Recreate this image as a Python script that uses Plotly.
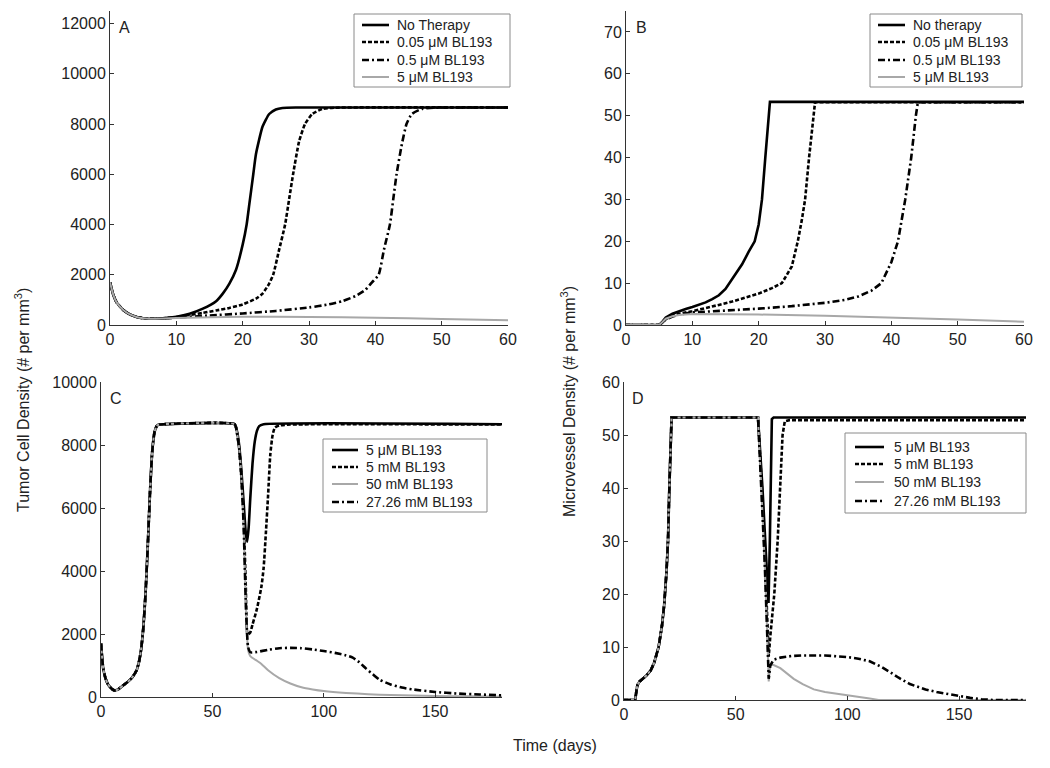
import plotly.graph_objects as go

# ---------------- Panel A: tumor cell density, 0-60 days ----------------
A_none_t = [0, 0.5, 1, 2, 3, 4, 5, 6, 7, 8, 10, 12, 14, 16, 17, 18, 19, 20, 20.6, 21, 21.6, 22, 23, 24, 25, 26, 28, 60]
A_none_y = [1700, 1200, 900, 600, 420, 320, 270, 250, 250, 265, 330, 450, 650, 950, 1250, 1650, 2200, 3200, 4000, 4800, 6000, 6800, 7900, 8400, 8580, 8640, 8660, 8660]
A_005_t = [0, 0.5, 1, 2, 3, 4, 5, 6, 7, 8, 10, 12, 14, 16, 18, 20, 22, 23, 24, 24.6, 25.5, 26.4, 27, 27.6, 28.5, 29.4, 30.5, 32, 34, 60]
A_005_y = [1700, 1200, 900, 600, 420, 320, 270, 250, 250, 265, 320, 400, 480, 580, 680, 820, 1050, 1250, 1650, 2000, 3000, 4000, 5000, 6000, 7300, 8000, 8400, 8600, 8650, 8660]
A_05_t = [0, 0.5, 1, 2, 3, 4, 5, 6, 7, 8, 10, 15, 20, 25, 30, 33, 35, 37, 38.5, 39.5, 40.5, 41.3, 42.2, 42.7, 43.2, 44, 44.7, 45.5, 47, 49, 60]
A_05_y = [1700, 1200, 900, 600, 420, 320, 270, 250, 250, 260, 290, 380, 460, 560, 700, 820, 950, 1150, 1400, 1700, 2000, 3000, 4000, 5000, 6000, 7200, 8000, 8400, 8600, 8650, 8660]
A_5_t = [0, 0.5, 1, 2, 3, 4, 5, 6, 8, 10, 20, 30, 40, 50, 60]
A_5_y = [1700, 1200, 900, 600, 420, 320, 270, 250, 260, 280, 330, 320, 290, 240, 190]

# ---------------- Panel B: microvessel density, 0-60 days ----------------
B_none_t = [0, 5, 5.5, 6, 7, 8, 9, 10, 11, 12, 13, 14, 15, 15.6, 16.5, 17.5, 18.5, 19.4, 20, 20.5, 21, 21.5, 21.7, 60]
B_none_y = [0, 0, 0.8, 1.8, 2.7, 3.3, 3.8, 4.3, 4.8, 5.4, 6.2, 7.1, 8.6, 10, 12, 14.5, 17.5, 20, 24, 30, 40, 50, 53.3, 53.3]
B_005_t = [0, 5, 5.5, 6, 7, 8, 10, 12, 14, 16, 18, 20, 22, 23.5, 25, 25.9, 26.5, 27, 27.6, 28.3, 28.5, 60]
B_005_y = [0, 0, 0.6, 1.4, 2.2, 2.7, 3.3, 4.0, 4.8, 5.6, 6.5, 7.5, 8.8, 10, 14, 20, 25, 30, 40, 50, 53.2, 53.2]
B_05_t = [0, 5, 5.5, 6, 7, 8, 10, 15, 20, 25, 30, 33, 35, 37, 38.5, 40, 41, 42.1, 43, 43.7, 44, 60]
B_05_y = [0, 0, 0.6, 1.3, 2.0, 2.5, 3.0, 3.4, 3.9, 4.5, 5.3, 6.0, 6.8, 8.2, 10, 15, 20, 30, 40, 50, 53.2, 53.2]
B_5_t = [0, 5, 5.5, 6, 7, 8, 10, 20, 30, 40, 50, 60]
B_5_y = [0, 0, 0.7, 1.5, 2.1, 2.4, 2.6, 2.5, 2.2, 1.8, 1.3, 0.8]

# ---------------- Panel C: tumor cell density, 0-180 days ----------------
C_pre_t = [0, 1, 2, 3, 4, 5, 6, 7, 8, 10, 12, 14, 16, 17, 18, 19, 20, 21, 22, 23, 24, 25, 26, 28, 60]
C_pre_y = [1700, 900, 600, 420, 320, 250, 210, 220, 260, 370, 480, 620, 850, 1100, 1500, 2200, 3300, 4800, 6500, 7800, 8400, 8600, 8650, 8660, 8660]
C_5uM_t = [61, 62, 63, 64, 65, 65.6, 66.3, 67, 68, 69, 70, 71, 73, 180]
C_5uM_y = [8450, 8000, 7200, 6200, 5200, 4930, 5400, 6300, 7400, 8100, 8450, 8600, 8660, 8660]
C_5mM_t = [61, 62, 63, 64, 65, 65.8, 67, 68, 70, 72, 73, 74, 75, 76, 77, 78, 80, 85, 180]
C_5mM_y = [8400, 7900, 7000, 5800, 3500, 1980, 2050, 2300, 2800, 3500, 4100, 5200, 6400, 7700, 8300, 8550, 8620, 8650, 8650]
C_50mM_t = [61, 62, 63, 64, 65, 66, 67, 70, 72, 75, 80, 85, 90, 95, 100, 110, 120, 130, 140, 150, 165, 180]
C_50mM_y = [8400, 7900, 7000, 5500, 3000, 1500, 1300, 1150, 1050, 850, 600, 430, 310, 240, 190, 130, 90, 60, 45, 30, 20, 10]
C_27mM_t = [61, 62, 63, 64, 65, 66, 67, 70, 75, 80, 85, 90, 95, 100, 105, 110, 113, 116, 119, 122, 125, 130, 135, 140, 150, 160, 170, 180]
C_27mM_y = [8400, 7900, 7000, 5500, 3000, 1600, 1420, 1430, 1500, 1550, 1560, 1550, 1510, 1460, 1400, 1320, 1250, 1100, 900, 720, 550, 400, 300, 240, 160, 110, 80, 50]

# ---------------- Panel D: microvessel density, 0-180 days ----------------
D_pre_t = [0, 5, 5.5, 6, 7, 8, 10, 12, 13.5, 14.5, 15.5, 17, 18, 19, 19.7, 20.3, 21, 21.3, 60]
D_pre_y = [0, 0, 1.5, 2.8, 3.5, 3.9, 4.6, 5.6, 7, 8.5, 10, 14, 18, 24, 30, 40, 50, 53.3, 53.3]
D_5uM_t = [61, 62, 63, 64, 64.7, 65.3, 65.8, 66.2, 67, 180]
D_5uM_y = [47, 40, 32, 24, 18.3, 30, 45, 53, 53.3, 53.3]
D_5mM_t = [61, 62, 63, 64, 64.8, 65.5, 66.5, 67.3, 68.8, 70, 71, 72, 74, 180]
D_5mM_y = [46, 38, 28, 17, 8.2, 12, 17, 20, 30, 40, 50, 52.6, 52.8, 52.8]
D_50mM_t = [61, 62, 63, 64, 64.8, 65.5, 67, 70, 73, 76, 80, 85, 90, 95, 100, 105, 110, 114, 180]
D_50mM_y = [45, 36, 26, 14, 3.5, 6.6, 6.6, 6.0, 5.0, 4.0, 3.0, 2.0, 1.5, 1.2, 1.0, 0.7, 0.3, 0, 0]
D_27mM_t = [61, 62, 63, 64, 64.8, 65.5, 67, 70, 75, 80, 90, 100, 105, 110, 115, 119, 123, 128, 135, 140, 145, 150, 155, 160, 165, 180]
D_27mM_y = [45, 36, 26, 14, 4, 6.5, 7.6, 8.0, 8.3, 8.4, 8.4, 8.1, 7.8, 7.3, 6.3, 5.3, 4.2, 3.0, 2.0, 1.5, 1.1, 0.8, 0.4, 0.15, 0, 0]

legend_A = ["No Therapy", "0.05 μM BL193", "0.5 μM BL193", "5 μM BL193"]
legend_B = ["No therapy", "0.05 μM BL193", "0.5 μM BL193", "5 μM BL193"]
legend_CD = ["5 μM BL193", "5 mM BL193", "50 mM BL193", "27.26 mM BL193"]

FONT = "Liberation Sans, Arial, sans-serif"
SOLID = dict(color="black", width=2.6)
DOT = dict(color="black", width=2.6, dash="4px,2px")
DASHDOT = dict(color="black", width=2.6, dash="7px,3px,2px,3px")
GRAY = dict(color="#a8a8a8", width=2)

fig = go.Figure()

def add(x, y, name, line, xa, ya, smooth=False):
    ln = dict(line)
    if smooth:
        ln.update(shape="spline", smoothing=0.5)
    fig.add_trace(go.Scatter(x=x, y=y, mode="lines", name=name, line=ln,
                             xaxis=xa, yaxis=ya, showlegend=False))

# Panel A
add(A_none_t, A_none_y, legend_A[0], SOLID, "x", "y", True)
add(A_005_t, A_005_y, legend_A[1], DOT, "x", "y", True)
add(A_05_t, A_05_y, legend_A[2], DASHDOT, "x", "y", True)
add(A_5_t, A_5_y, legend_A[3], GRAY, "x", "y", True)
# Panel B
add(B_none_t, B_none_y, legend_B[0], SOLID, "x2", "y2")
add(B_005_t, B_005_y, legend_B[1], DOT, "x2", "y2")
add(B_05_t, B_05_y, legend_B[2], DASHDOT, "x2", "y2")
add(B_5_t, B_5_y, legend_B[3], GRAY, "x2", "y2")
# Panel C
add(C_pre_t + C_5uM_t, C_pre_y + C_5uM_y, legend_CD[0], SOLID, "x3", "y3", True)
add(C_pre_t + C_5mM_t, C_pre_y + C_5mM_y, legend_CD[1], DOT, "x3", "y3", True)
add(C_pre_t + C_50mM_t, C_pre_y + C_50mM_y, legend_CD[2], GRAY, "x3", "y3", True)
add(C_pre_t + C_27mM_t, C_pre_y + C_27mM_y, legend_CD[3], DASHDOT, "x3", "y3", True)
# Panel D
add(D_pre_t + D_5uM_t, D_pre_y + D_5uM_y, legend_CD[0], SOLID, "x4", "y4")
add(D_pre_t + D_5mM_t, D_pre_y + D_5mM_y, legend_CD[1], DOT, "x4", "y4")
add(D_pre_t + D_50mM_t, D_pre_y + D_50mM_y, legend_CD[2], GRAY, "x4", "y4")
add(D_pre_t + D_27mM_t, D_pre_y + D_27mM_y, legend_CD[3], DASHDOT, "x4", "y4")

W, H = 1050, 768
def px(v): return v / W
def py(v): return 1 - v / H

axis_common = dict(showline=True, linecolor="#333", linewidth=1, ticks="inside", ticklen=4,
                   tickcolor="#333", showgrid=False, zeroline=False,
                   tickfont=dict(family=FONT, size=16, color="#222"), tickformat="d")

fig.update_layout(
    width=W, height=H, margin=dict(l=0, r=0, t=0, b=0, autoexpand=False),
    paper_bgcolor="white", plot_bgcolor="white",
    font=dict(family=FONT, color="#222"),
    showlegend=False,
    xaxis=dict(domain=[px(110), px(508)], range=[0, 60], dtick=10, anchor="y", **axis_common),
    yaxis=dict(domain=[py(325), py(11)], range=[0, 12500], tickvals=[0, 2000, 4000, 6000, 8000, 10000, 12000], anchor="x", **axis_common),
    xaxis2=dict(domain=[px(626), px(1024)], range=[0, 60], dtick=10, anchor="y2", **axis_common),
    yaxis2=dict(domain=[py(325), py(11)], range=[0, 75], tickvals=[0, 10, 20, 30, 40, 50, 60, 70], anchor="x2", **axis_common),
    xaxis3=dict(domain=[px(101), px(502)], range=[0, 180], tickvals=[0, 50, 100, 150], anchor="y3", **axis_common),
    yaxis3=dict(domain=[py(697), py(382)], range=[0, 10000], dtick=2000, anchor="x3", **axis_common),
    xaxis4=dict(domain=[px(624), px(1026)], range=[0, 180], tickvals=[0, 50, 100, 150], anchor="y4", **axis_common),
    yaxis4=dict(domain=[py(700), py(382)], range=[0, 60], dtick=10, anchor="x4", **axis_common),
)

# Hand-built legends (box, line sample, text) so their compact row height matches the original
legend_boxes = [
    # labels, styles, box (x0, x1, y0, y1), sample x0, x1, text x, row centres
    (legend_A, [SOLID, DOT, DASHDOT, GRAY], (354, 510, 14, 87), 362, 389, 395, [25, 42, 60, 77]),
    (legend_B, [SOLID, DOT, DASHDOT, GRAY], (870, 1022, 14, 87), 878, 905, 911, [25, 42, 60, 77]),
    (legend_CD, [SOLID, DOT, GRAY, DASHDOT], (323, 487, 439, 512), 332, 358, 364, [450, 467, 484, 502]),
    (legend_CD, [SOLID, DOT, GRAY, DASHDOT], (845, 1026, 433, 513), 855, 884, 892, [447, 464, 482, 501]),
]
leg_font = dict(family=FONT, size=14, color="#222")
for labels, styles, (bx0, bx1, by0, by1), lx0, lx1, tx, rows in legend_boxes:
    fig.add_shape(type="rect", xref="paper", yref="paper",
                  x0=px(bx0), x1=px(bx1), y0=py(by1), y1=py(by0),
                  fillcolor="white", line=dict(color="#8a8a8a", width=1), layer="above")
    for lab, st, ry in zip(labels, styles, rows):
        fig.add_shape(type="line", xref="paper", yref="paper",
                      x0=px(lx0), x1=px(lx1), y0=py(ry), y1=py(ry),
                      line=dict(color=st["color"], width=st["width"], dash=st.get("dash", "solid")),
                      layer="above")
        fig.add_annotation(text=lab, x=px(tx), y=py(ry), xref="paper", yref="paper",
                           showarrow=False, font=leg_font, xanchor="left", yanchor="middle")

ann_font = dict(family=FONT, size=16, color="#222")
for label, x, y in [("A", 124, 27), ("B", 641, 27), ("C", 116, 398), ("D", 638, 398)]:
    fig.add_annotation(text=label, x=px(x), y=py(y), xref="paper", yref="paper",
                       showarrow=False, font=ann_font, xanchor="center", yanchor="middle")

title_font = dict(family=FONT, size=16, color="#222")
fig.add_annotation(text="Tumor Cell Density (# per mm<sup>3</sup>)", x=px(22), y=py(400),
                   xref="paper", yref="paper", showarrow=False, textangle=-90, font=title_font,
                   xanchor="center", yanchor="middle")
fig.add_annotation(text="Microvessel Density (# per mm<sup>3</sup>)", x=px(568), y=py(402),
                   xref="paper", yref="paper", showarrow=False, textangle=-90, font=title_font,
                   xanchor="center", yanchor="middle")
fig.add_annotation(text="Time (days)", x=px(555), y=py(745),
                   xref="paper", yref="paper", showarrow=False, font=title_font,
                   xanchor="center", yanchor="middle")

fig.write_html("out.html", config={"displayModeBar": False},
               post_script="document.body.style.margin='0';document.body.style.overflow='hidden';")
